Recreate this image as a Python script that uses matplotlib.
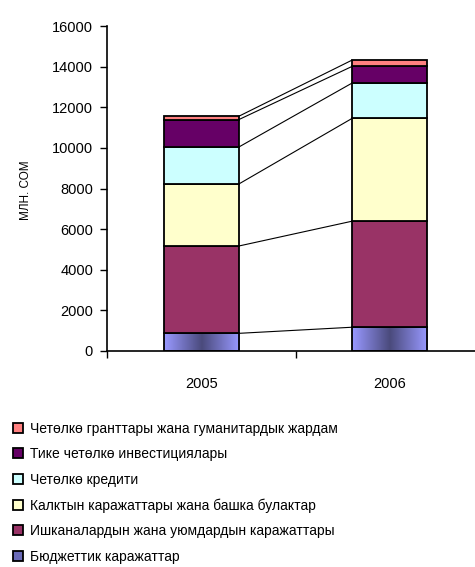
import numpy as np
import matplotlib
matplotlib.use("Agg")
import matplotlib.pyplot as plt
from matplotlib.colors import LinearSegmentedColormap
from matplotlib.patches import Patch

# data (млн. сом)
years = ["2005", "2006"]
budget = [870, 1170]
enterprises = [4300, 5220]
population = [3055, 5060]
credits = [1820, 1740]
fdi = [1350, 820]
grants = [165, 310]

labels = [
    "Бюджеттик каражаттар",
    "Ишканалардын жана уюмдардын каражаттары",
    "Калктын каражаттары жана башка булактар",
    "Четөлкө кредити",
    "Тике четөлкө инвестициялары",
    "Четөлкө гранттары жана гуманитардык жардам",
]
colors = ["#9999FF", "#993366", "#FFFFCC", "#CCFFFF", "#660066", "#FF8080"]
series = [budget, enterprises, population, credits, fdi, grants]

plt.rcParams["font.family"] = ["Liberation Sans", "DejaVu Sans"]

fig = plt.figure(figsize=(4.75, 5.67), dpi=100)
ax = fig.add_axes([107 / 475, 1 - 351 / 567, 377 / 475, 325 / 567])

x = np.arange(len(years))
w = 0.4
bottom = np.zeros(len(years))
tops = []
grad_cmap = LinearSegmentedColormap.from_list("g", ["#9999FF", "#4A4A7C", "#9999FF"])
grad = np.linspace(0, 1, 100).reshape(1, -1)
for vals, col in zip(series, colors):
    vals = np.array(vals, dtype=float)
    if col == "#9999FF":
        for xi, v, b in zip(x, vals, bottom):
            ax.imshow(grad, extent=[xi - w / 2, xi + w / 2, b, b + v],
                      aspect="auto", cmap=grad_cmap, zorder=2)
        ax.bar(x, vals, w, bottom=bottom, facecolor="none",
               edgecolor="black", linewidth=1.3, zorder=3)
    else:
        ax.bar(x, vals, w, bottom=bottom, color=col,
               edgecolor="black", linewidth=1.3, zorder=3)
    bottom = bottom + vals
    tops.append(bottom.copy())

# series lines between the bars
for t in tops:
    ax.plot([x[0] + w / 2, x[1] - w / 2], [t[0], t[1]], color="black",
            linewidth=0.8, zorder=1)

ax.set_xlim(-0.5, 1.5)
ax.set_ylim(0, 16000)
ax.set_yticks(np.arange(0, 16001, 2000))
ax.tick_params(axis="y", length=5, width=1, pad=5, labelsize=10.5)
ax.set_xticks(x)
ax.set_xticklabels(years)
ax.set_xticks([-0.5, 0.5, 1.5], minor=True)
ax.tick_params(axis="x", which="major", length=0, pad=19, labelsize=10.5)
ax.tick_params(axis="x", which="minor", length=5, width=1)
for s in ["top", "right"]:
    ax.spines[s].set_visible(False)
for s in ["left", "bottom"]:
    ax.spines[s].set_linewidth(1.2)

fig.text(26 / 475, 1 - 190 / 567, "МЛН. СОМ", rotation=90, ha="center",
         va="center", fontsize=8.5)

handles = [Patch(facecolor=c, edgecolor="black", linewidth=1.3) for c in colors]
handles[0] = Patch(facecolor="#6B6BB8", edgecolor="black", linewidth=1.3)
leg = fig.legend(handles[::-1], labels[::-1], loc="upper left",
                 bbox_to_anchor=(0.0, 1 - 409 / 567), frameon=False,
                 handlelength=0.75, handleheight=0.75, handletextpad=0.5,
                 labelspacing=0.83, prop={"size": 10})

fig.savefig("out.png", dpi=100)
